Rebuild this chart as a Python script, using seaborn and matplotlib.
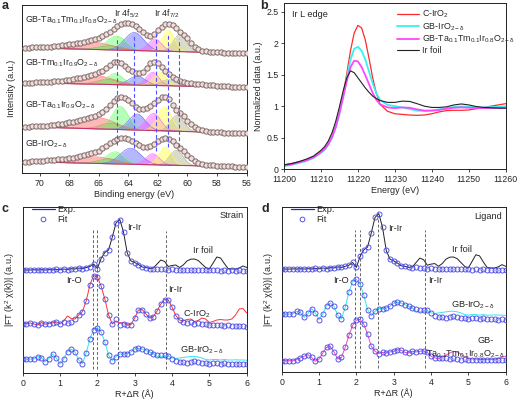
import numpy as np
import matplotlib
matplotlib.use("Agg")
import matplotlib.pyplot as plt
import seaborn as sns
from matplotlib.lines import Line2D
from matplotlib.ticker import FuncFormatter

# ==========================================
# Panel a : XPS Ir 4f
# ==========================================

binding_energy = [71.0, 70.75, 70.5, 70.25, 70.0, 69.75, 69.5, 69.25, 69.0, 68.75,
                  68.5, 68.25, 68.0, 67.75, 67.5, 67.25, 67.0, 66.75, 66.5, 66.25,
                  66.0, 65.75, 65.5, 65.25, 65.0, 64.75, 64.5, 64.25, 64.0, 63.75,
                  63.5, 63.25, 63.0, 62.75, 62.5, 62.25, 62.0, 61.75, 61.5, 61.25,
                  61.0, 60.75, 60.5, 60.25, 60.0, 59.75, 59.5, 59.25, 59.0, 58.75,
                  58.5, 58.25, 58.0, 57.75, 57.5, 57.25, 57.0, 56.75, 56.5, 56.25, 56.0]

xps_labels = ["GB-Ta$_{\\mathregular{0.1}}$Tm$_{\\mathregular{0.1}}$Ir$_{\\mathregular{0.8}}$O$_{\\mathregular{2-δ}}$",
              "GB-Tm$_{\\mathregular{0.1}}$Ir$_{\\mathregular{0.9}}$O$_{\\mathregular{2-δ}}$",
              "GB-Ta$_{\\mathregular{0.1}}$Ir$_{\\mathregular{0.9}}$O$_{\\mathregular{2-δ}}$",
              "GB-IrO$_{\\mathregular{2-δ}}$"]

xps_ta_tm = [125.3, 125.4, 125.5, 125.6, 125.7, 125.9, 126.2, 126.4, 126.7, 127.1,
             127.6, 128.1, 128.7, 129.2, 129.8, 130.5, 131.3, 132.2, 133.2, 134.2,
             135.3, 136.8, 138.7, 141.2, 144.0, 146.7, 148.7, 150.0, 150.3, 149.3,
             147.3, 144.0, 140.7, 138.3, 137.3, 139.2, 143.0, 146.5, 148.7, 149.2,
             148.0, 145.0, 141.3, 138.2, 134.7, 130.3, 126.3, 123.8, 122.3, 121.6,
             121.2, 120.9, 120.7, 120.5, 120.3, 120.1, 120.0, 119.9, 119.8, 119.7, 119.7]
xps_tm = [90.3, 90.35, 90.4, 90.5, 90.6, 90.8, 91.0, 91.2, 91.5, 91.9,
          92.3, 92.8, 93.3, 93.9, 94.5, 95.2, 96.0, 97.0, 98.0, 99.2,
          100.5, 102.3, 104.5, 107.5, 110.5, 111.0, 109.5, 107.0, 104.0, 101.5,
          100.0, 100.0, 101.0, 104.5, 110.0, 111.0, 109.5, 105.5, 102.0, 99.0,
          96.0, 93.8, 92.0, 91.0, 90.3, 89.8, 89.3, 88.9, 88.5, 88.1,
          87.8, 87.5, 87.3, 87.0, 86.8, 86.6, 86.4, 86.2, 86.0, 85.8, 85.6]
xps_ta = [46.3, 46.4, 46.5, 46.6, 46.8, 47.0, 47.3, 47.6, 48.0, 48.6,
          49.2, 49.9, 50.7, 51.4, 52.2, 53.1, 54.0, 55.0, 56.0, 57.2,
          58.7, 61.0, 64.0, 67.8, 72.0, 74.8, 76.0, 75.2, 73.0, 69.5,
          66.0, 64.0, 63.5, 64.5, 67.0, 70.0, 73.0, 75.5, 76.0, 73.5,
          68.0, 63.0, 60.0, 56.5, 52.0, 48.5, 45.5, 43.8, 42.5, 41.8,
          41.3, 41.0, 40.8, 40.6, 40.4, 40.2, 40.1, 40.0, 39.9, 39.8, 39.7]
xps_iro2 = [11.3, 11.45, 11.6, 11.8, 12.0, 12.3, 12.6, 12.9, 13.3, 13.6,
            14.0, 14.3, 14.7, 15.4, 16.2, 17.1, 18.0, 19.0, 20.0, 21.0,
            22.3, 24.5, 27.0, 29.7, 32.0, 33.6, 34.5, 34.6, 34.0, 32.3,
            30.0, 27.5, 25.5, 25.5, 27.0, 29.3, 31.5, 33.5, 34.7, 33.8,
            31.5, 28.3, 25.0, 21.5, 18.0, 14.6, 11.8, 10.2, 9.0, 8.4,
            8.0, 7.6, 7.3, 7.0, 6.8, 6.6, 6.5, 6.3, 6.2, 6.1, 6.0]

# background level at 71 eV and 56 eV
bg_left = [125.3, 90.3, 46.3, 11.3]
bg_right = [119.7, 85.6, 39.7, 6.0]

# fitted components: red, olive, green, blue, magenta, yellow, grey
peak_centers = [[66.3, 65.2, 64.8, 63.6, 62.2, 61.3, 60.5],
                [66.2, 65.4, 64.9, 63.4, 62.35, 61.9, 61.3],
                [66.0, 65.2, 64.55, 63.4, 62.3, 61.55, 60.7],
                [66.2, 65.3, 64.9, 63.85, 62.35, 61.5, 60.75]]
peak_heights = [[7, 4, 14, 18, 12, 21, 17],
                [8.5, 5, 11, 9, 13, 14, 6],
                [11, 6, 23, 16, 17, 24, 16],
                [6.5, 5, 12, 16, 11, 18, 15]]
peak_widths = [[1.2, 0.8, 0.65, 0.65, 0.45, 0.42, 0.45],
               [1.2, 0.7, 0.55, 0.55, 0.42, 0.42, 0.5],
               [1.1, 0.7, 0.55, 0.55, 0.5, 0.48, 0.45],
               [1.2, 0.7, 0.6, 0.7, 0.45, 0.42, 0.45]]
peak_colors = ["#ff7070", "#b0a060", "#70ff70", "#7070ff", "#ff60ff", "#ffff50", "#b8b898"]

ref_lines_a = [64.75, 63.65, 62.1, 61.33, 60.6]

# ==========================================
# Panel b : Ir L edge XANES
# ==========================================

energy = [11200, 11202, 11204, 11206, 11208, 11210, 11211, 11212, 11213, 11214,
          11215, 11216, 11217, 11218, 11219, 11220, 11221, 11222, 11223, 11224,
          11225, 11226, 11228, 11230, 11232, 11234, 11236, 11238, 11240, 11242,
          11244, 11246, 11248, 11250, 11252, 11254, 11256, 11258, 11260]

xanes_c_iro2 = [0.07, 0.09, 0.12, 0.15, 0.20, 0.28, 0.33, 0.41, 0.52, 0.68,
                0.90, 1.18, 1.52, 1.88, 2.16, 2.28, 2.24, 2.05, 1.76, 1.45,
                1.20, 1.03, 0.92, 0.88, 0.87, 0.86, 0.855, 0.86, 0.88, 0.91,
                0.93, 0.935, 0.935, 0.94, 0.96, 0.98, 1.0, 1.02, 1.04]
xanes_gb_iro2 = [0.05, 0.07, 0.10, 0.13, 0.18, 0.26, 0.31, 0.39, 0.50, 0.66,
                 0.88, 1.15, 1.45, 1.74, 1.91, 1.94, 1.88, 1.74, 1.55, 1.36,
                 1.20, 1.10, 1.02, 1.0, 0.98, 0.955, 0.93, 0.925, 0.93, 0.95,
                 0.97, 0.99, 0.995, 0.99, 0.985, 0.98, 0.985, 0.99, 1.0]
xanes_ta_tm = [0.06, 0.08, 0.11, 0.14, 0.19, 0.27, 0.32, 0.40, 0.51, 0.67,
               0.89, 1.14, 1.40, 1.62, 1.72, 1.71, 1.62, 1.49, 1.35, 1.21,
               1.10, 1.03, 0.98, 0.97, 0.98, 0.975, 0.95, 0.93, 0.93, 0.94,
               0.96, 0.975, 0.98, 0.975, 0.97, 0.97, 0.97, 0.97, 0.97]
xanes_ir_foil = [0.07, 0.09, 0.12, 0.16, 0.21, 0.30, 0.36, 0.45, 0.58, 0.76,
                 0.99, 1.24, 1.45, 1.56, 1.53, 1.45, 1.37, 1.29, 1.22, 1.16,
                 1.12, 1.09, 1.06, 1.06, 1.08, 1.075, 1.04, 1.0, 0.98, 0.98,
                 0.99, 1.02, 1.035, 1.02, 0.995, 0.98, 0.975, 0.97, 0.97]

xanes_labels = ["C-IrO$_{\\mathregular{2}}$", "GB-IrO$_{\\mathregular{2-δ}}$",
                "GB-Ta$_{\\mathregular{0.1}}$Tm$_{\\mathregular{0.1}}$Ir$_{\\mathregular{0.8}}$O$_{\\mathregular{2-δ}}$",
                "Ir foil"]
xanes_colors = ["#ff2a2a", "#35f2f2", "#ff45ff", "#222222"]

# ==========================================
# Panels c, d : EXAFS |FT| (height above each curve's baseline)
# ==========================================

r_values = [0.0, 0.1, 0.2, 0.3, 0.4, 0.5, 0.6, 0.7, 0.8, 0.9,
            1.0, 1.1, 1.2, 1.3, 1.4, 1.5, 1.6, 1.7, 1.8, 1.9,
            2.0, 2.1, 2.2, 2.3, 2.4, 2.5, 2.6, 2.7, 2.8, 2.9,
            3.0, 3.1, 3.2, 3.3, 3.4, 3.5, 3.6, 3.7, 3.8, 3.9,
            4.0, 4.1, 4.2, 4.3, 4.4, 4.5, 4.6, 4.7, 4.8, 4.9,
            5.0, 5.1, 5.2, 5.3, 5.4, 5.5, 5.6, 5.7, 5.8, 5.9, 6.0]

foil_fit = [0, 0, 0, 0.2, 0, 0.3, 0, 0.4, 0.1, 0.6,
            0.2, 1.0, 0.5, 1.3, 1.0, 2.0, 1.5, 2.5, 3.5, 6.0,
            1.5, 11.5, 17.5, 20.0, 33.0, 47.0, 50.5, 38.0, 17.0, 9.0,
            7.5, 5.5, 3.0, 2.5, 1.5, 1.0, 1.5, 0.8, 1.0, 0.5,
            0.8, 0.2, 0.5, 0.0, 0.3, 0.0, 0.2, -0.2, 0.0, -0.3,
            -0.1, -0.4, -0.2, -0.5, -0.3, -0.5, -0.4, -0.6, -0.4, -0.6, -0.5]
foil_exp = [0, 0, 0, 0.2, 0, 0.3, 0, 0.4, 0.1, 0.6,
            0.2, 1.0, 0.5, 1.3, 1.0, 2.0, 1.5, 2.5, 3.5, 6.0,
            1.5, 11.5, 17.5, 20.0, 33.0, 47.0, 50.5, 38.0, 17.0, 9.0,
            7.5, 5.5, 3.0, 2.5, 1.5, 2.0, 6.0, 10.0, 8.5, 3.5,
            4.5, 5.0, 2.5, 5.0, 9.0, 10.8, 11.0, 9.5, 6.0, 2.5,
            1.0, 7.0, 13.0, 12.0, 6.5, 1.5, 1.0, 1.0, 2.0, 4.0, 2.5]

c_iro2_fit = [0, 0.5, 1.0, 0, -1.0, 1.5, -0.2, 0.5, 1.2, 2.2,
              0, 2.0, 1.0, 2.5, 5.0, 9.0, 12.5, 23.0, 39.0, 48.5,
              47.0, 38.0, 25.0, 9.0, 0.0, 5.0, -0.5, 0.5, -1.0, -0.5,
              6.0, 14.0, 14.5, 10.0, 6.0, 7.5, 13.0, 20.0, 24.5, 24.0,
              17.0, 8.5, 4.0, 2.5, 1.5, 2.0, 0.5, 1.0, 0.0, 0.5,
              -0.5, -0.5, -1.0, -0.7, -1.5, -1.2, -2.0, -1.5, -2.2, -2.0, -2.5]
c_iro2_exp = [0, 0.5, 1.0, 0, -1.0, 1.5, -0.2, 0.5, 1.2, 2.2,
              0, 3.0, 8.0, 5.5, 5.0, 9.0, 12.5, 23.0, 39.0, 48.5,
              47.0, 38.0, 25.0, 9.0, 0.0, 3.0, 1.0, 1.5, -1.0, -0.5,
              6.0, 14.0, 14.5, 10.0, 6.0, 7.5, 13.0, 20.0, 24.5, 24.0,
              17.0, 8.5, 4.0, 3.0, 4.5, 5.0, 2.5, 3.5, 6.0, 5.0,
              1.5, 2.5, 4.0, 4.5, 4.0, 4.0, 5.0, 9.0, 15.0, 15.5, 11.0]

gb_iro2_fit = [0, 0, 0, 0.2, 2.5, 1.5, -3.0, 0.5, 5.0, 1.0,
               -5.0, 0.0, 7.5, 10.0, 7.0, -1.0, -4.5, 6.0, 20.0, 29.5,
               31.5, 27.0, 17.0, 4.0, -1.5, 2.5, 5.0, 5.0, 5.5, 7.0,
               10.0, 10.8, 10.0, 8.5, 7.0, 5.5, 4.5, 4.0, 4.0, 3.5,
               0.5, -1.5, -2.5, -3.0, -3.5, -2.5, -2.0, -2.5, -3.5, -4.0,
               -4.5, -3.5, -4.0, -4.5, -4.0, -4.5, -4.8, -4.5, -5.0, -4.8, -5.0]
gb_iro2_exp = [0, 0, 0, 0.2, 2.5, 1.5, -3.0, 0.5, 5.0, 1.0,
               -5.0, 0.0, 7.5, 10.0, 7.0, -1.0, -4.5, 6.0, 20.0, 29.5,
               31.5, 27.0, 17.0, 4.0, -1.5, 2.5, 5.0, 5.0, 5.5, 7.0,
               10.0, 10.8, 10.0, 8.5, 7.0, 5.5, 2.5, 2.0, 2.5, 3.0,
               1.0, 0.5, 1.0, 1.5, 2.0, 2.5, 2.5, 2.0, 1.0, -0.5,
               -1.0, -0.5, -0.5, -1.0, -0.5, -1.0, -1.0, -0.8, -1.0, -1.0, -1.2]

ta_tm_fit = [0, 0, 0, 0, 1.0, 2.5, 4.0, 5.5, 3.0, -0.5,
             1.5, 7.0, 12.0, 13.0, 8.0, 1.5, 3.0, 12.0, 23.0, 32.0,
             37.0, 37.5, 33.0, 24.0, 13.0, 8.5, 6.5, 7.5, 7.0, 8.0,
             8.5, 10.0, 9.5, 7.5, 7.0, 8.5, 8.0, 8.5, 9.0, 7.5,
             4.0, 2.5, 2.0, 2.5, 2.0, 1.5, 2.0, 1.5, 1.0, 1.5,
             1.0, 0.5, 1.0, 0.5, 0.8, 0.5, 0.3, 0.5, 0.2, 0.4, 0.2]
ta_tm_exp = [0, 0, 0, 0, 1.0, 2.5, 4.0, 5.5, 3.0, -0.5,
             1.5, 7.0, 12.0, 13.0, 8.0, 1.5, 3.0, 12.0, 23.0, 32.0,
             37.0, 37.5, 33.0, 24.0, 13.0, 8.5, 6.5, 7.5, 7.0, 8.0,
             8.5, 10.0, 9.5, 7.5, 7.0, 8.5, 8.0, 8.5, 9.0, 7.5,
             4.0, 2.5, 2.0, 3.5, 5.0, 7.0, 8.5, 8.0, 6.0, 3.5,
             2.0, 1.5, 1.5, 1.0, 1.2, 1.0, 1.0, 1.2, 2.0, 3.5, 4.0]

# ==========================================
# Style
# ==========================================

sns.set_theme(style="ticks")
plt.rcParams["font.family"] = ["Liberation Sans", "DejaVu Sans"]
plt.rcParams["mathtext.fontset"] = "custom"
plt.rcParams["mathtext.rm"] = "Liberation Sans"
plt.rcParams["mathtext.it"] = "Liberation Sans:italic"
plt.rcParams["mathtext.bf"] = "Liberation Sans:bold"
plt.rcParams["axes.linewidth"] = 0.7
plt.rcParams["axes.edgecolor"] = "#222222"
plt.rcParams["xtick.major.size"] = 2.5
plt.rcParams["ytick.major.size"] = 2.5
plt.rcParams["xtick.major.width"] = 0.6
plt.rcParams["ytick.major.width"] = 0.6
plt.rcParams["xtick.major.pad"] = 1.5
plt.rcParams["ytick.major.pad"] = 1.5
plt.rcParams["xtick.labelsize"] = 6.3
plt.rcParams["ytick.labelsize"] = 6.3
plt.rcParams["axes.labelsize"] = 6.5
plt.rcParams["axes.labelpad"] = 1.5

W, H = 518, 399
fig = plt.figure(figsize=(W / 100, H / 100), dpi=100)


def px_axes(left, top, right, bottom):
    return fig.add_axes([left / W, 1 - bottom / H, (right - left) / W, (bottom - top) / H])


ax_a = px_axes(22, 4.5, 246.5, 173)
ax_b = px_axes(284, 3.3, 505.7, 169.3)
ax_c = px_axes(22.7, 206.5, 246.7, 373)
ax_d = px_axes(281.7, 206.5, 505.7, 372)

# ==========================================
# Panel a
# ==========================================

grid = np.linspace(56, 71, 400)
xps_curves = [xps_ta_tm, xps_tm, xps_ta, xps_iro2]
label_y = [152.3, 109.7, 68.0, 28.7]

for i, curve in enumerate(xps_curves):
    bg = bg_right[i] + (bg_left[i] - bg_right[i]) * (grid - 56) / 15
    for c, h, w, col in zip(peak_centers[i], peak_heights[i], peak_widths[i], peak_colors):
        comp = bg + h * np.exp(-(grid - c) ** 2 / (2 * w ** 2))
        ax_a.fill_between(grid, bg, comp, color=col, alpha=0.5, lw=0)
        ax_a.plot(grid, comp, color=col, lw=0.5, alpha=0.9)
    ax_a.plot(grid, bg, color="#c8306a", lw=0.8)
    ax_a.plot(binding_energy, curve, "o", ms=3.8, mfc="#f4dcdc", mec="#7a6c68", mew=0.7, zorder=4)
    ax_a.text(70.97, label_y[i], xps_labels[i], fontsize=6.4, va="center", ha="left")

ax_a.vlines(ref_lines_a, [28, 25, 22, 26, 26], [136, 138, 140, 140, 134],
            colors="#5050ff", linestyles=(0, (3.5, 2.2)), lw=0.8, zorder=5)
ax_a.text(64.1, 159.7, "Ir 4f$_{\\mathregular{5/2}}$", fontsize=6.4, ha="center", va="center")
ax_a.text(61.4, 159.7, "Ir 4f$_{\\mathregular{7/2}}$", fontsize=6.4, ha="center", va="center")

ax_a.set_xlim(71.2, 56)
ax_a.set_ylim(0, 168.5)
ax_a.set_xticks([70, 68, 66, 64, 62, 60, 58, 56])
ax_a.set_yticks([])
ax_a.set_xlabel("Binding energy (eV)")
ax_a.set_ylabel("Intensity (a.u.)", labelpad=4)

# ==========================================
# Panel b
# ==========================================

xanes_curves = [xanes_c_iro2, xanes_gb_iro2, xanes_ta_tm, xanes_ir_foil]
xanes_widths = [0.9, 1.3, 1.3, 0.8]

for curve, col, lw in zip(xanes_curves, xanes_colors, xanes_widths):
    sns.lineplot(x=energy, y=curve, ax=ax_b, color=col, lw=lw,
                 estimator=None, sort=False, legend=False)

handles_b = [Line2D([], [], color=c, lw=lw) for c, lw in zip(xanes_colors, xanes_widths)]
ax_b.legend(handles_b, xanes_labels, loc="upper left", bbox_to_anchor=(0.48, 1.005),
            frameon=False, fontsize=6.4, handlelength=2.5, handletextpad=0.3,
            labelspacing=0.12, borderpad=0.2)
ax_b.text(11202.1, 2.45, "Ir L edge", fontsize=6.6, va="center")

ax_b.set_xlim(11200, 11260)
ax_b.set_ylim(0, 2.63)
ax_b.set_xticks([11200, 11210, 11220, 11230, 11240, 11250, 11260])
ax_b.set_yticks([0, 0.5, 1, 1.5, 2, 2.5])
ax_b.yaxis.set_major_formatter(FuncFormatter(lambda v, p: f"{v:g}"))
ax_b.set_xlabel("Energy (eV)")
ax_b.set_ylabel("Normalized data (a.u.)", labelpad=2)

# ==========================================
# Panels c and d
# ==========================================


def draw_exafs(ax, exp, fit, offset, color):
    sns.lineplot(x=r_values, y=np.array(exp) + offset, ax=ax, color=color, lw=0.7,
                 estimator=None, sort=False, legend=False, zorder=2)
    ax.plot(r_values, np.array(fit) + offset, "o", ms=3.6, mfc="none",
            mec="#4c4ce8", mew=0.65, zorder=3)


draw_exafs(ax_c, foil_exp, foil_fit, 103, "#222222")
draw_exafs(ax_c, c_iro2_exp, c_iro2_fit, 49, "#ff3030")
draw_exafs(ax_c, gb_iro2_exp, gb_iro2_fit, 14, "#30e8f0")

draw_exafs(ax_d, foil_exp, foil_fit, 93.6, "#222222")
draw_exafs(ax_d, gb_iro2_exp, gb_iro2_fit, 52.7, "#30e8f0")
draw_exafs(ax_d, ta_tm_exp, ta_tm_fit, 10.3, "#ff40d0")

ax_c.vlines([1.89, 1.99, 2.56, 3.84], 4, [145, 145, 153, 142],
            colors="#666666", linestyles=(0, (3, 2)), lw=0.7, zorder=1)
ax_d.vlines([1.96, 2.09, 2.57, 3.85], 3.6, [129, 129, 140, 129],
            colors="#666666", linestyles=(0, (3, 2)), lw=0.7, zorder=1)

fs = 6.6
ax_c.text(2.81, 145, "Ir-Ir", fontsize=fs, va="center")
ax_c.text(4.84, 122.3, "Ir foil", fontsize=fs, ha="center", va="center")
ax_c.text(1.36, 92.3, "Ir-O", fontsize=fs, ha="center", va="center")
ax_c.text(4.08, 84, "Ir-Ir", fontsize=fs, ha="center", va="center")
ax_c.text(4.66, 59, "C-IrO$_{\\mathregular{2}}$", fontsize=fs, ha="center", va="center")
ax_c.text(4.79, 22.3, "GB-IrO$_{\\mathregular{2-δ}}$", fontsize=fs, ha="center", va="center")
ax_c.text(5.91, 158, "Strain", fontsize=fs, ha="right", va="center")

ax_d.text(3.05, 130.6, "Ir-Ir", fontsize=fs, ha="center", va="center")
ax_d.text(4.84, 111.8, "Ir foil", fontsize=fs, ha="center", va="center")
ax_d.text(1.58, 83, "Ir-O", fontsize=fs, ha="center", va="center")
ax_d.text(4.1, 83.6, "Ir-Ir", fontsize=fs, ha="center", va="center")
ax_d.text(5.11, 60.9, "GB-IrO$_{\\mathregular{2-δ}}$", fontsize=fs, ha="center", va="center")
ax_d.text(5.46, 28.5, "GB-", fontsize=fs, ha="center", va="center")
ax_d.text(4.91, 16.4, "Ta$_{\\mathregular{0.1}}$Tm$_{\\mathregular{0.1}}$Ir$_{\\mathregular{0.8}}$O$_{\\mathregular{2-δ}}$",
          fontsize=fs, ha="center", va="center")
ax_d.text(5.89, 141.5, "Ligand", fontsize=fs, ha="right", va="center")

legend_handles = [Line2D([], [], color="#2b2b9a", lw=0.9),
                  Line2D([], [], ls="none", marker="o", ms=3.4, mfc="none", mec="#4c4ce8", mew=0.65)]
for ax, top in [(ax_c, 166.5), (ax_d, 150.5)]:
    ax.legend(legend_handles, ["Exp.", "Fit"], loc="upper left", bbox_to_anchor=(0.015, 1.04),
              frameon=False, fontsize=6.6, handlelength=2.6, handletextpad=0.2,
              labelspacing=0.05, borderpad=0.1)
    ax.set_xlim(0, 6)
    ax.set_ylim(0, top)
    ax.set_xticks([0, 1, 2, 3, 4, 5, 6])
    ax.set_yticks([])
    ax.set_xlabel("R+ΔR (Å)")
    ax.set_ylabel("|FT (k$^{\\mathregular{2}}$ χ(k))| (a.u.)", labelpad=4)

for letter, x, y in [("a", 2, 6), ("b", 260, 6), ("c", 2, 209), ("d", 261, 209)]:
    fig.text(x / W, 1 - y / H, letter, fontsize=9, fontweight="bold", va="center", ha="left")

fig.savefig("out.png", dpi=100)
